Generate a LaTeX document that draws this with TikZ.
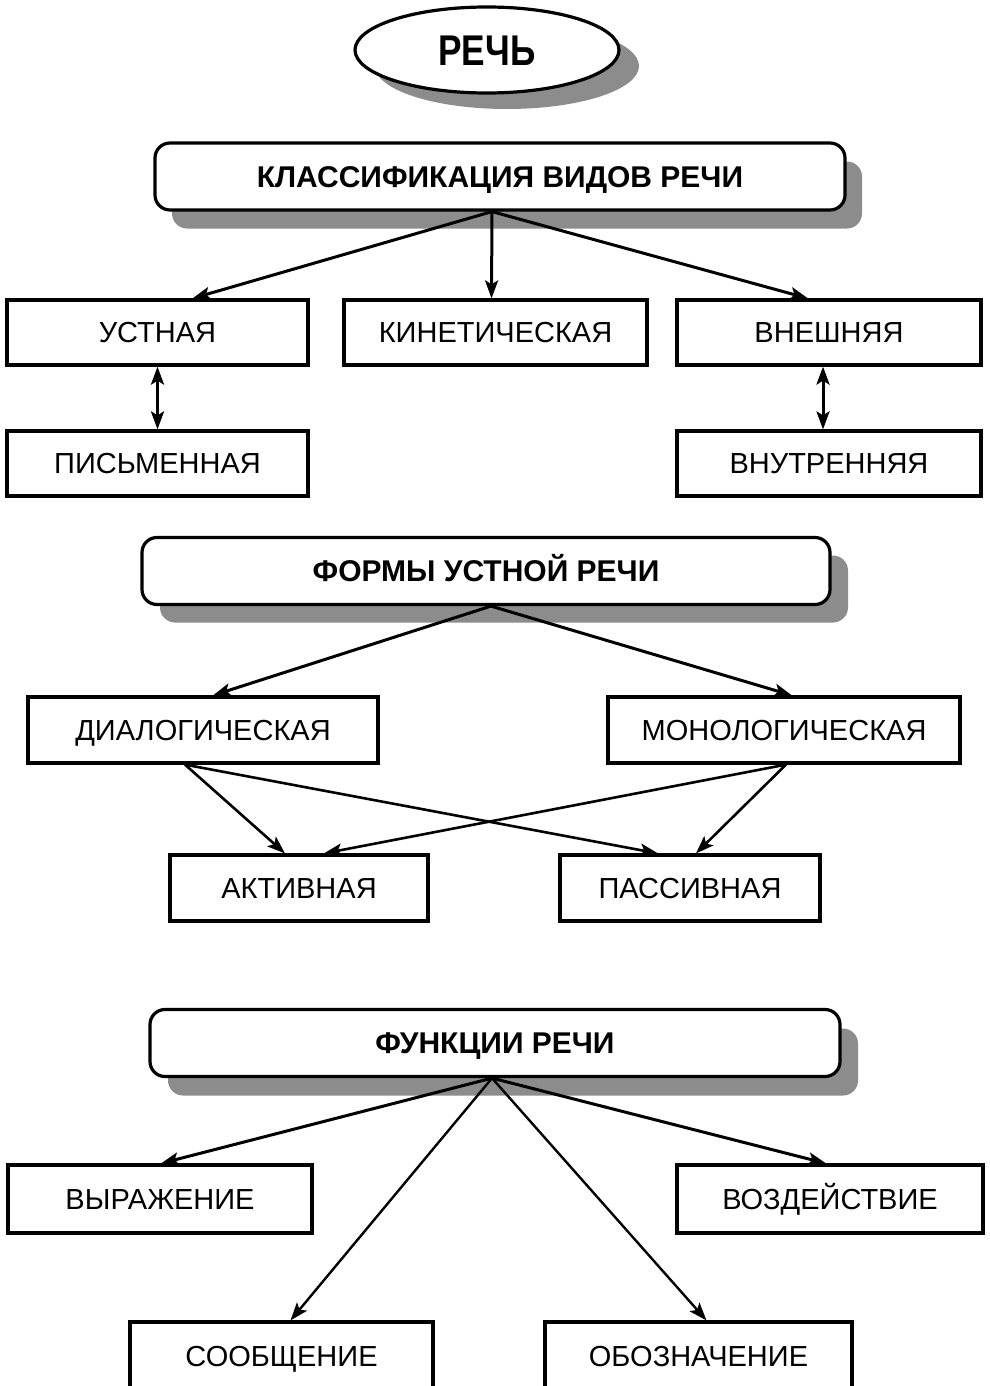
\documentclass[tikz,border=0pt]{standalone}
\usepackage{fontspec}
\setmainfont{Liberation Sans}
\newfontfamily\rechfont[FakeStretch=0.82]{Liberation Sans}
\usetikzlibrary{arrows.meta,shapes.geometric}
\tikzset{
  shade/.style={fill=black!45},
  oval/.style={ellipse, draw, fill=white, line width=3.2pt, minimum width=264, minimum height=86, inner sep=0,
    font=\rechfont\bfseries\fontsize{43}{45}\selectfont, text height=31, text depth=0},
  head/.style={draw, fill=white, line width=3.2pt, rounded corners=15, minimum height=67, inner sep=0,
    font=\bfseries\fontsize{30}{32}\selectfont, text height=21.5, text depth=0},
  headshade/.style={shade, rounded corners=15, minimum height=67, inner sep=0},
  box/.style={draw, fill=white, line width=3.2pt, minimum height=65, inner sep=0,
    font=\fontsize{29}{31}\selectfont, text height=20.8, text depth=0},
  arr/.style={line width=3pt, -{Stealth[length=18,width=13,inset=4]}},
  darr/.style={line width=3pt, {Stealth[length=18,width=13,inset=4]}-{Stealth[length=18,width=13,inset=4]}},
}
\begin{document}
\begin{tikzpicture}[x=1pt,y=-1pt]
\clip (0,0) rectangle (989,1386);
\fill[white] (0,0) rectangle (989,1386);

% РЕЧЬ
\fill[shade] (507,66) ellipse [x radius=132pt, y radius=43pt];
\node[oval] (rech) at (487,50) {РЕЧЬ};

% classification
\node[headshade, minimum width=690] (klassS) at (517,195) {};
\node[head, minimum width=690] (klass) at (500,176.5) {КЛАССИФИКАЦИЯ ВИДОВ РЕЧИ};

\node[box, minimum width=301] (ust) at (157.5,332.5) {УСТНАЯ};
\node[box, minimum width=303] (kin) at (495.5,332.5) {КИНЕТИЧЕСКАЯ};
\node[box, minimum width=304] (vnesh) at (829,332.5) {ВНЕШНЯЯ};
\node[box, minimum width=301] (pis) at (157.5,463.5) {ПИСЬМЕННАЯ};
\node[box, minimum width=304] (vnutr) at (829,463.5) {ВНУТРЕННЯЯ};

\draw[arr] ([xshift=-8]klass.south) -- ([xshift=35]ust.north);
\draw[arr] ([xshift=-8]klass.south) -- ([xshift=-4]kin.north);
\draw[arr] ([xshift=-8]klass.south) -- ([xshift=-21]vnesh.north);
\draw[darr] (ust.south) -- (pis.north);
\draw[darr] ([xshift=-6]vnesh.south) -- ([xshift=-6]vnutr.north);

% forms
\node[headshade, minimum width=688] (formyS) at (504,589) {};
\node[head, minimum width=688] (formy) at (486,571) {ФОРМЫ УСТНОЙ РЕЧИ};

\node[box, minimum width=350, minimum height=66] (dia) at (203,730) {ДИАЛОГИЧЕСКАЯ};
\node[box, minimum width=352, minimum height=66] (mono) at (784,730) {МОНОЛОГИЧЕСКАЯ};
\node[box, minimum width=258, minimum height=66] (akt) at (299,888) {АКТИВНАЯ};
\node[box, minimum width=260, minimum height=66] (pas) at (690,888) {ПАССИВНАЯ};

\draw[arr] ([xshift=5]formy.south) -- ([xshift=10]dia.north);
\draw[arr] ([xshift=5]formy.south) -- ([xshift=8]mono.north);
\draw[arr, line width=2.6pt] ([xshift=-18]dia.south) -- ([xshift=-14]akt.north);
\draw[arr, line width=2.6pt] ([xshift=-18]dia.south) -- ([xshift=-32]pas.north);
\draw[arr, line width=2.6pt] ([xshift=2]mono.south) -- ([xshift=6]pas.north);
\draw[arr, line width=2.6pt] ([xshift=2]mono.south) -- ([xshift=25]akt.north);

% functions
\node[headshade, minimum width=690] (funkS) at (513,1062) {};
\node[head, minimum width=690] (funk) at (495,1043) {ФУНКЦИИ РЕЧИ};

\node[box, minimum width=304, minimum height=68] (vyr) at (160,1199) {ВЫРАЖЕНИЕ};
\node[box, minimum width=306, minimum height=68] (vozd) at (830,1199) {ВОЗДЕЙСТВИЕ};
\node[box, minimum width=303, minimum height=68] (soob) at (281.5,1356) {СООБЩЕНИЕ};
\node[box, minimum width=307, minimum height=68] (oboz) at (698.5,1356) {ОБОЗНАЧЕНИЕ};

\draw[arr] ([xshift=-3]funk.south) -- ([xshift=1]vyr.north);
\draw[arr] ([xshift=-3]funk.south) -- ([xshift=-4]vozd.north);
\draw[arr, line width=2.4pt] ([xshift=-3]funk.south) -- ([xshift=9]soob.north);
\draw[arr, line width=2.4pt] ([xshift=-3]funk.south) -- ([xshift=8]oboz.north);
\end{tikzpicture}
\end{document}
